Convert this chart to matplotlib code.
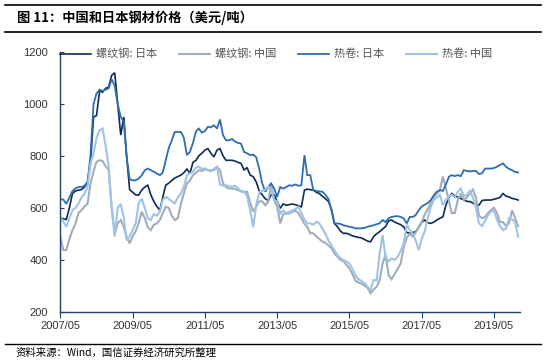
import matplotlib
matplotlib.use("Agg")
import matplotlib.pyplot as plt
from matplotlib.lines import Line2D
import pandas as pd

plt.rcParams['font.family'] = ['Noto Sans CJK SC', 'DejaVu Sans']

# ---- data (monthly, from 2007/05) ----
start_month = "2007-05-01"

rebar_japan = [
    560, 558, 555, 600, 655, 665, 668, 670, 680, 700, 770, 950, 955, 1050, 1045, 1060, 1065, 1110, 1120, 1000,
    880, 950, 800, 670, 660, 650, 649, 668, 680, 687, 650, 625, 605, 591, 640, 687, 695, 705, 715, 720,
    726, 735, 750, 732, 775, 783, 800, 810, 822, 828, 810, 796, 822, 828, 800, 783, 783, 783, 780, 775,
    771, 745, 755, 726, 720, 700, 665, 650, 635, 628, 650, 650, 625, 598, 615, 610, 612, 615, 612, 608,
    604, 668, 672, 670, 668, 660, 655, 645, 635, 625, 595, 540, 527, 510, 502, 502, 498, 492, 489, 486,
    484, 478, 472, 469, 489, 500, 508, 518, 528, 550, 553, 545, 540, 535, 527, 505, 502, 505, 508, 525,
    545, 553, 543, 540, 545, 553, 560, 565, 610, 640, 655, 645, 642, 636, 630, 625, 624, 618, 612, 610,
    628, 630, 630, 630, 633, 636, 640, 655, 645, 642, 636, 634, 630,
]

rebar_china = [
    488, 437, 437, 480, 514, 539, 580, 591, 605, 616, 693, 740, 777, 783, 780, 760, 745, 600, 500, 540,
    553, 525, 489, 463, 490, 510, 540, 585, 560, 525, 514, 535, 540, 553, 578, 604, 600, 570, 553, 560,
    615, 655, 694, 705, 726, 735, 745, 742, 748, 745, 745, 745, 758, 745, 694, 680, 674, 674, 672, 668,
    665, 660, 662, 620, 585, 605, 625, 625, 610, 625, 690, 630, 604, 540, 575, 578, 578, 585, 588, 580,
    560, 538, 527, 502, 502, 490, 480, 470, 465, 455, 445, 424, 412, 399, 395, 380, 368, 345, 320, 312,
    308, 300, 292, 271, 285, 296, 320, 385, 420, 340, 325, 345, 365, 386, 450, 485, 500, 489, 505, 525,
    545, 575, 594, 617, 640, 655, 668, 720, 675, 625, 580, 580, 630, 655, 630, 640, 655, 670, 640, 570,
    560, 565, 580, 591, 600, 580, 545, 545, 530, 540, 590, 560, 530,
]

hrc_japan = [
    632, 632, 615, 640, 665, 675, 680, 680, 685, 700, 800, 1000, 1040, 1055, 1050, 1055, 1060, 1095, 1070, 1000,
    950, 930, 800, 710, 706, 706, 713, 725, 745, 751, 745, 739, 732, 726, 735, 783, 830, 860, 892, 892,
    892, 870, 803, 815, 850, 895, 905, 890, 895, 912, 910, 918, 905, 940, 880, 860, 860, 865, 855, 850,
    847, 815, 810, 803, 805, 795, 750, 694, 662, 680, 694, 675, 642, 680, 674, 680, 687, 685, 690, 685,
    687, 803, 726, 726, 668, 665, 663, 662, 650, 635, 590, 540, 540, 538, 533, 530, 527, 525, 521, 521,
    521, 523, 527, 530, 533, 537, 540, 553, 545, 560, 565, 567, 568, 565, 559, 540, 565, 565, 572, 590,
    605, 612, 618, 630, 649, 662, 668, 665, 690, 720, 726, 722, 726, 722, 745, 742, 740, 742, 742, 730,
    733, 751, 751, 751, 753, 758, 765, 771, 758, 750, 745, 738, 736,
]

hrc_china = [
    565, 546, 527, 560, 591, 600, 616, 640, 655, 680, 770, 809, 870, 898, 905, 840, 758, 604, 489, 600,
    615, 560, 475, 490, 515, 540, 617, 635, 600, 560, 553, 575, 570, 585, 630, 642, 635, 625, 617, 640,
    655, 680, 726, 732, 739, 755, 758, 750, 752, 745, 740, 750, 758, 690, 685, 687, 683, 681, 685, 675,
    662, 662, 645, 590, 525, 610, 660, 665, 670, 681, 670, 630, 625, 578, 590, 580, 584, 590, 595, 604,
    580, 555, 540, 540, 535, 546, 540, 520, 500, 475, 455, 437, 418, 405, 399, 393, 386, 365, 340, 325,
    318, 310, 296, 284, 322, 320, 420, 495, 410, 395, 405, 400, 412, 435, 463, 535, 515, 500, 475, 437,
    480, 510, 560, 604, 630, 640, 650, 610, 630, 645, 650, 640, 662, 674, 645, 650, 665, 640, 600, 540,
    530, 550, 570, 585, 590, 555, 530, 514, 520, 560, 555, 545, 489,
]

series_names = ["螺纹钢: 日本", "螺纹钢: 中国", "热卷: 日本", "热卷: 中国"]
series_colors = ["#0c2b57", "#a3adb9", "#2f6db3", "#9dc4e8"]
series_widths = [1.2, 1.5, 1.3, 1.5]

y_ticks = [200, 400, 600, 800, 1000, 1200]
x_tick_labels = ["2007/05", "2009/05", "2011/05", "2013/05", "2015/05", "2017/05", "2019/05"]

# ---- figure ----
W, H = 546, 362
fig = plt.figure(figsize=(W / 100, H / 100), dpi=100)
ax_l, ax_r, ax_t, ax_b = 60.3, 520, 52, 311.7
ax = fig.add_axes([ax_l / W, 1 - ax_b / H, (ax_r - ax_l) / W, (ax_b - ax_t) / H])

dates = pd.date_range(start_month, periods=len(rebar_japan), freq="MS")
all_series = [rebar_japan, rebar_china, hrc_japan, hrc_china]
for vals, name, col, lw in zip(all_series, series_names, series_colors, series_widths):
    ax.plot(dates, vals, color=col, lw=lw, label=name, solid_joinstyle="miter")

ax.set_ylim(200, 1200)
ax.set_yticks(y_ticks)
tick_dates = pd.to_datetime([s.replace("/", "-") + "-01" for s in x_tick_labels])
ax.set_xticks(tick_dates)
ax.set_xticklabels(x_tick_labels)
ax.set_xlim(pd.Timestamp("2007-05-01"), pd.Timestamp("2020-01-20"))

spine_col = "#1f3f6e"
for s in ["top", "right"]:
    ax.spines[s].set_visible(False)
for s in ["left", "bottom"]:
    ax.spines[s].set_color(spine_col)
    ax.spines[s].set_linewidth(1.0)

ax.tick_params(axis="y", direction="in", length=3, color=spine_col, pad=9,
               labelsize=8, labelcolor="#333333")
ax.tick_params(axis="x", direction="out", length=4, color=spine_col, pad=3,
               labelsize=8, labelcolor="#333333")
for lab in ax.get_xticklabels() + ax.get_yticklabels():
    lab.set_fontfamily(["Liberation Sans", "DejaVu Sans"])

leg = ax.legend(ncol=4, loc="center left", bbox_to_anchor=(0, 0.992), frameon=False,
                fontsize=8, handlelength=2.8, handletextpad=0.4, columnspacing=2.0,
                borderpad=0, borderaxespad=0)
for t in leg.get_texts():
    t.set_color("#555555")

# ---- title / footer ----
fig.add_artist(Line2D([5 / W, 541 / W], [1 - 5 / H] * 2, color="black", lw=1.2))
fig.add_artist(Line2D([5 / W, 541 / W], [1 - 32 / H] * 2, color="black", lw=1.2))
fig.text(17 / W, 1 - 18 / H, "图 11：中国和日本钢材价格（美元/吨）", fontsize=9.5,
         fontweight="bold", va="center", ha="left", color="black")
fig.add_artist(Line2D([5 / W, 541 / W], [1 - 344 / H] * 2, color="black", lw=1.0))
fig.text(16 / W, 1 - 353 / H, "资料来源：Wind，国信证券经济研究所整理", fontsize=7.5,
         va="center", ha="left", color="black")

fig.savefig("out.png", dpi=100)
